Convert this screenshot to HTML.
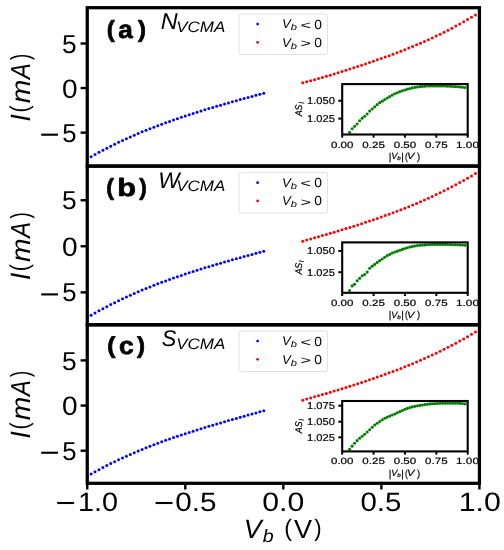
<!DOCTYPE html>
<html><head><meta charset="utf-8"><style>
html,body{margin:0;padding:0;background:#fff;}
svg{display:block;will-change:transform;}
text{font-family:"Liberation Sans", sans-serif;text-rendering:geometricPrecision;}
</style></head><body>
<svg width="504" height="550" viewBox="0 0 504 550">
<defs><clipPath id="clipa"><rect x="87.25" y="7.7" width="392.18" height="158.4"/></clipPath><clipPath id="iclipa"><rect x="342.2" y="84.1" width="125.5" height="50.4"/></clipPath><clipPath id="clipb"><rect x="87.25" y="166.1" width="392.18" height="158.70000000000002"/></clipPath><clipPath id="iclipb"><rect x="342.2" y="242.4" width="125.5" height="50.4"/></clipPath><clipPath id="clipc"><rect x="87.25" y="324.8" width="392.18" height="158.5"/></clipPath><clipPath id="iclipc"><rect x="342.2" y="401.0" width="125.5" height="50.4"/></clipPath></defs>
<rect width="504" height="550" fill="#fff"/>
<g clip-path="url(#clipa)"><g fill="#0000ff"><circle cx="87.18" cy="159.08" r="1.5"/><circle cx="91.10" cy="156.76" r="1.5"/><circle cx="95.03" cy="154.50" r="1.5"/><circle cx="98.95" cy="152.32" r="1.5"/><circle cx="102.88" cy="150.20" r="1.5"/><circle cx="106.80" cy="148.14" r="1.5"/><circle cx="110.72" cy="146.13" r="1.5"/><circle cx="114.65" cy="144.18" r="1.5"/><circle cx="118.57" cy="142.28" r="1.5"/><circle cx="122.50" cy="140.44" r="1.5"/><circle cx="126.42" cy="138.64" r="1.5"/><circle cx="130.34" cy="136.88" r="1.5"/><circle cx="134.27" cy="135.17" r="1.5"/><circle cx="138.19" cy="133.49" r="1.5"/><circle cx="142.12" cy="131.86" r="1.5"/><circle cx="146.04" cy="130.27" r="1.5"/><circle cx="149.96" cy="128.70" r="1.5"/><circle cx="153.89" cy="127.18" r="1.5"/><circle cx="157.81" cy="125.68" r="1.5"/><circle cx="161.74" cy="124.22" r="1.5"/><circle cx="165.66" cy="122.78" r="1.5"/><circle cx="169.58" cy="121.38" r="1.5"/><circle cx="173.51" cy="120.00" r="1.5"/><circle cx="177.43" cy="118.64" r="1.5"/><circle cx="181.36" cy="117.32" r="1.5"/><circle cx="185.28" cy="116.01" r="1.5"/><circle cx="189.20" cy="114.73" r="1.5"/><circle cx="193.13" cy="113.46" r="1.5"/><circle cx="197.05" cy="112.22" r="1.5"/><circle cx="200.98" cy="111.00" r="1.5"/><circle cx="204.90" cy="109.79" r="1.5"/><circle cx="208.82" cy="108.60" r="1.5"/><circle cx="212.75" cy="107.43" r="1.5"/><circle cx="216.67" cy="106.28" r="1.5"/><circle cx="220.60" cy="105.14" r="1.5"/><circle cx="224.52" cy="104.01" r="1.5"/><circle cx="228.44" cy="102.89" r="1.5"/><circle cx="232.37" cy="101.79" r="1.5"/><circle cx="236.29" cy="100.70" r="1.5"/><circle cx="240.22" cy="99.61" r="1.5"/><circle cx="244.14" cy="98.54" r="1.5"/><circle cx="248.06" cy="97.47" r="1.5"/><circle cx="251.99" cy="96.41" r="1.5"/><circle cx="255.91" cy="95.35" r="1.5"/><circle cx="259.84" cy="94.30" r="1.5"/><circle cx="263.76" cy="93.24" r="1.5"/></g><g fill="#ff0000"><circle cx="302.78" cy="82.76" r="1.5"/><circle cx="306.70" cy="81.78" r="1.5"/><circle cx="310.63" cy="80.76" r="1.5"/><circle cx="314.55" cy="79.70" r="1.5"/><circle cx="318.48" cy="78.61" r="1.5"/><circle cx="322.40" cy="77.50" r="1.5"/><circle cx="326.32" cy="76.35" r="1.5"/><circle cx="330.25" cy="75.18" r="1.5"/><circle cx="334.17" cy="74.00" r="1.5"/><circle cx="338.10" cy="72.79" r="1.5"/><circle cx="342.02" cy="71.57" r="1.5"/><circle cx="345.94" cy="70.33" r="1.5"/><circle cx="349.87" cy="69.08" r="1.5"/><circle cx="353.79" cy="67.81" r="1.5"/><circle cx="357.72" cy="66.53" r="1.5"/><circle cx="361.64" cy="65.23" r="1.5"/><circle cx="365.56" cy="63.91" r="1.5"/><circle cx="369.49" cy="62.58" r="1.5"/><circle cx="373.41" cy="61.24" r="1.5"/><circle cx="377.34" cy="59.87" r="1.5"/><circle cx="381.26" cy="58.49" r="1.5"/><circle cx="385.18" cy="57.08" r="1.5"/><circle cx="389.11" cy="55.65" r="1.5"/><circle cx="393.03" cy="54.20" r="1.5"/><circle cx="396.96" cy="52.72" r="1.5"/><circle cx="400.88" cy="51.22" r="1.5"/><circle cx="404.80" cy="49.68" r="1.5"/><circle cx="408.73" cy="48.11" r="1.5"/><circle cx="412.65" cy="46.51" r="1.5"/><circle cx="416.58" cy="44.87" r="1.5"/><circle cx="420.50" cy="43.19" r="1.5"/><circle cx="424.42" cy="41.47" r="1.5"/><circle cx="428.35" cy="39.71" r="1.5"/><circle cx="432.27" cy="37.91" r="1.5"/><circle cx="436.20" cy="36.06" r="1.5"/><circle cx="440.12" cy="34.17" r="1.5"/><circle cx="444.04" cy="32.22" r="1.5"/><circle cx="447.97" cy="30.23" r="1.5"/><circle cx="451.89" cy="28.19" r="1.5"/><circle cx="455.82" cy="26.10" r="1.5"/><circle cx="459.74" cy="23.96" r="1.5"/><circle cx="463.66" cy="21.77" r="1.5"/><circle cx="467.59" cy="19.52" r="1.5"/><circle cx="471.51" cy="17.23" r="1.5"/><circle cx="475.44" cy="14.89" r="1.5"/><circle cx="479.36" cy="12.50" r="1.5"/></g></g><line x1="80.6" y1="43.5" x2="87.25" y2="43.5" stroke="#000" stroke-width="2.4"/><text transform="translate(61.95 52.64) scale(1.0141 1)" font-size="25.95">5</text><line x1="80.6" y1="88.05" x2="87.25" y2="88.05" stroke="#000" stroke-width="2.4"/><text transform="translate(61.98 97.63) scale(1.0561 1)" font-size="26.57">0</text><line x1="80.6" y1="132.65" x2="87.25" y2="132.65" stroke="#000" stroke-width="2.4"/><text transform="translate(62.17 141.79) scale(0.9898 1)" font-size="25.95">5</text><rect x="41.2" y="133.65" width="16.8" height="2.1"/><text transform="rotate(-90) translate(-59.94 28.57) scale(0.7134 1)" font-size="26.17">)</text><text transform="rotate(-90) translate(-79.07 30.00) scale(0.8653 1)" font-size="27.49" font-style="italic">A</text><text transform="rotate(-90) translate(-103.30 30.00) scale(1.0423 1)" font-size="27.16" font-style="italic">m</text><text transform="rotate(-90) translate(-112.53 28.26) scale(0.8289 1)" font-size="25.74">(</text><text transform="rotate(-90) translate(-121.45 30.00) scale(0.9444 1)" font-size="27.93" font-style="italic">I</text><text transform="translate(106.65 36.64) scale(1.0330 1)" font-size="23.16" font-weight="bold" stroke="#000" stroke-width="0.7" stroke-linejoin="round">(</text><text transform="translate(118.27 37.70) scale(1.0432 1)" font-size="25.02" font-weight="bold" stroke="#000" stroke-width="0.7" stroke-linejoin="round">a</text><text transform="translate(137.89 36.64) scale(1.0330 1)" font-size="23.16" font-weight="bold" stroke="#000" stroke-width="0.7" stroke-linejoin="round">)</text><text transform="translate(160.70 29.40) scale(1.0179 1)" font-size="22.98" font-style="italic">N</text><text transform="translate(176.26 32.45) scale(1.1227 1)" font-size="15.12" font-style="italic">VCMA</text><rect x="239.0" y="14.00" width="88.6" height="40.5" rx="2.2" fill="#fff" fill-opacity="0.8" stroke="#d9d9d9" stroke-width="0.8"/><circle cx="257.6" cy="24.10" r="1.35" fill="#0000ff"/><circle cx="257.6" cy="42.30" r="1.35" fill="#ff0000"/><text transform="translate(281.94 28.20) scale(1.0456 1)" font-size="12.65" font-style="italic">V</text><text transform="translate(290.73 30.31) scale(1.2835 1)" font-size="8.71" font-style="italic">b</text><text transform="translate(300.50 28.64) scale(1.5971 1)" font-size="11.23">&lt;</text><text transform="translate(314.35 28.57) scale(1.0403 1)" font-size="13.29">0</text><text transform="translate(281.94 46.50) scale(1.0456 1)" font-size="12.65" font-style="italic">V</text><text transform="translate(290.73 48.61) scale(1.2835 1)" font-size="8.71" font-style="italic">b</text><text transform="translate(300.50 46.94) scale(1.5971 1)" font-size="11.23">&gt;</text><text transform="translate(314.35 46.87) scale(1.0403 1)" font-size="13.29">0</text><rect x="342.2" y="84.1" width="125.5" height="50.4" fill="#fff"/><g clip-path="url(#iclipa)"><g fill="#008000"><circle cx="349.60" cy="132.30" r="1.55"/><circle cx="352.11" cy="128.80" r="1.55"/><circle cx="354.62" cy="126.37" r="1.55"/><circle cx="357.13" cy="124.07" r="1.55"/><circle cx="359.64" cy="120.79" r="1.55"/><circle cx="362.15" cy="118.13" r="1.55"/><circle cx="364.66" cy="116.19" r="1.55"/><circle cx="367.17" cy="114.03" r="1.55"/><circle cx="369.68" cy="111.12" r="1.55"/><circle cx="372.19" cy="109.05" r="1.55"/><circle cx="374.70" cy="106.87" r="1.55"/><circle cx="377.21" cy="104.63" r="1.55"/><circle cx="379.72" cy="102.66" r="1.55"/><circle cx="382.23" cy="101.13" r="1.55"/><circle cx="384.74" cy="99.49" r="1.55"/><circle cx="387.25" cy="97.96" r="1.55"/><circle cx="389.76" cy="96.60" r="1.55"/><circle cx="392.27" cy="95.11" r="1.55"/><circle cx="394.78" cy="93.74" r="1.55"/><circle cx="397.29" cy="92.74" r="1.55"/><circle cx="399.80" cy="91.64" r="1.55"/><circle cx="402.31" cy="90.81" r="1.55"/><circle cx="404.82" cy="89.93" r="1.55"/><circle cx="407.33" cy="89.14" r="1.55"/><circle cx="409.84" cy="88.46" r="1.55"/><circle cx="412.35" cy="87.88" r="1.55"/><circle cx="414.86" cy="87.37" r="1.55"/><circle cx="417.37" cy="86.96" r="1.55"/><circle cx="419.88" cy="86.65" r="1.55"/><circle cx="422.39" cy="86.40" r="1.55"/><circle cx="424.90" cy="86.19" r="1.55"/><circle cx="427.41" cy="86.00" r="1.55"/><circle cx="429.92" cy="85.90" r="1.55"/><circle cx="432.43" cy="85.90" r="1.55"/><circle cx="434.94" cy="85.90" r="1.55"/><circle cx="437.45" cy="85.90" r="1.55"/><circle cx="439.96" cy="85.90" r="1.55"/><circle cx="442.47" cy="85.90" r="1.55"/><circle cx="444.98" cy="85.95" r="1.55"/><circle cx="447.49" cy="86.13" r="1.55"/><circle cx="450.00" cy="86.31" r="1.55"/><circle cx="452.51" cy="86.46" r="1.55"/><circle cx="455.02" cy="86.61" r="1.55"/><circle cx="457.53" cy="86.78" r="1.55"/><circle cx="460.04" cy="86.98" r="1.55"/><circle cx="462.55" cy="87.21" r="1.55"/><circle cx="465.06" cy="87.45" r="1.55"/></g></g><line x1="338.3" y1="100.75" x2="342.2" y2="100.75" stroke="#000" stroke-width="2.0"/><text transform="translate(307.07 104.30) scale(1.1091 1)" font-size="10.04" stroke="#000" stroke-width="0.2" stroke-linejoin="round">1.050</text><line x1="338.3" y1="118.6" x2="342.2" y2="118.6" stroke="#000" stroke-width="2.0"/><text transform="translate(307.06 122.15) scale(1.1102 1)" font-size="10.04" stroke="#000" stroke-width="0.2" stroke-linejoin="round">1.025</text><line x1="342.20" y1="134.5" x2="342.20" y2="137.70" stroke="#000" stroke-width="2.0"/><text transform="translate(330.99 147.51) scale(1.2727 1)" font-size="9.05" stroke="#000" stroke-width="0.2" stroke-linejoin="round">0.00</text><line x1="373.57" y1="134.5" x2="373.57" y2="137.70" stroke="#000" stroke-width="2.0"/><text transform="translate(362.36 147.51) scale(1.2744 1)" font-size="9.05" stroke="#000" stroke-width="0.2" stroke-linejoin="round">0.25</text><line x1="404.95" y1="134.5" x2="404.95" y2="137.70" stroke="#000" stroke-width="2.0"/><text transform="translate(393.74 147.51) scale(1.2727 1)" font-size="9.05" stroke="#000" stroke-width="0.2" stroke-linejoin="round">0.50</text><line x1="436.32" y1="134.5" x2="436.32" y2="137.70" stroke="#000" stroke-width="2.0"/><text transform="translate(425.11 147.51) scale(1.2744 1)" font-size="9.05" stroke="#000" stroke-width="0.2" stroke-linejoin="round">0.75</text><line x1="467.70" y1="134.5" x2="467.70" y2="137.70" stroke="#000" stroke-width="2.0"/><text transform="translate(456.07 147.51) scale(1.2970 1)" font-size="9.05" stroke="#000" stroke-width="0.2" stroke-linejoin="round">1.00</text><text transform="translate(388.85 159.67) scale(1.0000 1)" font-size="10.03" stroke="#000" stroke-width="0.2" stroke-linejoin="round">|</text><text transform="translate(391.20 159.30) scale(1.0119 1)" font-size="9.02" font-style="italic" stroke="#000" stroke-width="0.2" stroke-linejoin="round">V</text><text transform="translate(397.31 160.45) scale(1.1529 1)" font-size="5.44" font-style="italic" stroke="#000" stroke-width="0.2" stroke-linejoin="round">b</text><text transform="translate(401.20 159.67) scale(1.0000 1)" font-size="10.03" stroke="#000" stroke-width="0.2" stroke-linejoin="round">|</text><text transform="translate(405.08 159.71) scale(0.8314 1)" font-size="10.08" stroke="#000" stroke-width="0.2" stroke-linejoin="round">(</text><text transform="translate(407.03 159.30) scale(1.2311 1)" font-size="9.02" font-style="italic" stroke="#000" stroke-width="0.2" stroke-linejoin="round">V</text><text transform="translate(416.93 159.71) scale(0.9448 1)" font-size="10.08" stroke="#000" stroke-width="0.2" stroke-linejoin="round">)</text><text transform="rotate(-90) translate(-116.28 301.65) scale(0.8991 1)" font-size="9.82" font-style="italic" stroke="#000" stroke-width="0.2" stroke-linejoin="round">AS</text><text transform="rotate(-90) translate(-103.85 303.70) scale(0.8296 1)" font-size="7.42" font-style="italic" stroke="#000" stroke-width="0.2" stroke-linejoin="round">I</text><rect x="342.2" y="84.1" width="125.5" height="50.4" fill="none" stroke="#000" stroke-width="2.1"/><g clip-path="url(#clipb)"><g fill="#0000ff"><circle cx="87.18" cy="317.57" r="1.5"/><circle cx="91.10" cy="315.27" r="1.5"/><circle cx="95.03" cy="313.02" r="1.5"/><circle cx="98.95" cy="310.83" r="1.5"/><circle cx="102.88" cy="308.70" r="1.5"/><circle cx="106.80" cy="306.63" r="1.5"/><circle cx="110.72" cy="304.60" r="1.5"/><circle cx="114.65" cy="302.63" r="1.5"/><circle cx="118.57" cy="300.70" r="1.5"/><circle cx="122.50" cy="298.83" r="1.5"/><circle cx="126.42" cy="297.00" r="1.5"/><circle cx="130.34" cy="295.21" r="1.5"/><circle cx="134.27" cy="293.47" r="1.5"/><circle cx="138.19" cy="291.77" r="1.5"/><circle cx="142.12" cy="290.11" r="1.5"/><circle cx="146.04" cy="288.49" r="1.5"/><circle cx="149.96" cy="286.91" r="1.5"/><circle cx="153.89" cy="285.36" r="1.5"/><circle cx="157.81" cy="283.85" r="1.5"/><circle cx="161.74" cy="282.37" r="1.5"/><circle cx="165.66" cy="280.93" r="1.5"/><circle cx="169.58" cy="279.51" r="1.5"/><circle cx="173.51" cy="278.12" r="1.5"/><circle cx="177.43" cy="276.76" r="1.5"/><circle cx="181.36" cy="275.42" r="1.5"/><circle cx="185.28" cy="274.11" r="1.5"/><circle cx="189.20" cy="272.82" r="1.5"/><circle cx="193.13" cy="271.56" r="1.5"/><circle cx="197.05" cy="270.31" r="1.5"/><circle cx="200.98" cy="269.08" r="1.5"/><circle cx="204.90" cy="267.87" r="1.5"/><circle cx="208.82" cy="266.68" r="1.5"/><circle cx="212.75" cy="265.50" r="1.5"/><circle cx="216.67" cy="264.34" r="1.5"/><circle cx="220.60" cy="263.19" r="1.5"/><circle cx="224.52" cy="262.06" r="1.5"/><circle cx="228.44" cy="260.93" r="1.5"/><circle cx="232.37" cy="259.82" r="1.5"/><circle cx="236.29" cy="258.72" r="1.5"/><circle cx="240.22" cy="257.63" r="1.5"/><circle cx="244.14" cy="256.55" r="1.5"/><circle cx="248.06" cy="255.47" r="1.5"/><circle cx="251.99" cy="254.41" r="1.5"/><circle cx="255.91" cy="253.35" r="1.5"/><circle cx="259.84" cy="252.30" r="1.5"/><circle cx="263.76" cy="251.26" r="1.5"/></g><g fill="#ff0000"><circle cx="302.78" cy="241.15" r="1.5"/><circle cx="306.70" cy="240.05" r="1.5"/><circle cx="310.63" cy="238.94" r="1.5"/><circle cx="314.55" cy="237.82" r="1.5"/><circle cx="318.48" cy="236.70" r="1.5"/><circle cx="322.40" cy="235.58" r="1.5"/><circle cx="326.32" cy="234.44" r="1.5"/><circle cx="330.25" cy="233.29" r="1.5"/><circle cx="334.17" cy="232.14" r="1.5"/><circle cx="338.10" cy="230.97" r="1.5"/><circle cx="342.02" cy="229.79" r="1.5"/><circle cx="345.94" cy="228.59" r="1.5"/><circle cx="349.87" cy="227.38" r="1.5"/><circle cx="353.79" cy="226.15" r="1.5"/><circle cx="357.72" cy="224.91" r="1.5"/><circle cx="361.64" cy="223.65" r="1.5"/><circle cx="365.56" cy="222.37" r="1.5"/><circle cx="369.49" cy="221.06" r="1.5"/><circle cx="373.41" cy="219.74" r="1.5"/><circle cx="377.34" cy="218.39" r="1.5"/><circle cx="381.26" cy="217.02" r="1.5"/><circle cx="385.18" cy="215.62" r="1.5"/><circle cx="389.11" cy="214.20" r="1.5"/><circle cx="393.03" cy="212.74" r="1.5"/><circle cx="396.96" cy="211.26" r="1.5"/><circle cx="400.88" cy="209.75" r="1.5"/><circle cx="404.80" cy="208.21" r="1.5"/><circle cx="408.73" cy="206.64" r="1.5"/><circle cx="412.65" cy="205.03" r="1.5"/><circle cx="416.58" cy="203.38" r="1.5"/><circle cx="420.50" cy="201.70" r="1.5"/><circle cx="424.42" cy="199.99" r="1.5"/><circle cx="428.35" cy="198.23" r="1.5"/><circle cx="432.27" cy="196.43" r="1.5"/><circle cx="436.20" cy="194.59" r="1.5"/><circle cx="440.12" cy="192.71" r="1.5"/><circle cx="444.04" cy="190.78" r="1.5"/><circle cx="447.97" cy="188.81" r="1.5"/><circle cx="451.89" cy="186.79" r="1.5"/><circle cx="455.82" cy="184.72" r="1.5"/><circle cx="459.74" cy="182.59" r="1.5"/><circle cx="463.66" cy="180.42" r="1.5"/><circle cx="467.59" cy="178.20" r="1.5"/><circle cx="471.51" cy="175.91" r="1.5"/><circle cx="475.44" cy="173.58" r="1.5"/><circle cx="479.36" cy="171.18" r="1.5"/></g></g><line x1="80.6" y1="200.25" x2="87.25" y2="200.25" stroke="#000" stroke-width="2.4"/><text transform="translate(61.95 209.39) scale(1.0141 1)" font-size="25.95">5</text><line x1="80.6" y1="246.25" x2="87.25" y2="246.25" stroke="#000" stroke-width="2.4"/><text transform="translate(61.98 255.83) scale(1.0561 1)" font-size="26.57">0</text><line x1="80.6" y1="292.35" x2="87.25" y2="292.35" stroke="#000" stroke-width="2.4"/><text transform="translate(62.17 301.49) scale(0.9898 1)" font-size="25.95">5</text><rect x="41.2" y="293.35" width="16.8" height="2.1"/><text transform="rotate(-90) translate(-218.54 28.57) scale(0.7134 1)" font-size="26.17">)</text><text transform="rotate(-90) translate(-237.67 30.00) scale(0.8653 1)" font-size="27.49" font-style="italic">A</text><text transform="rotate(-90) translate(-261.90 30.00) scale(1.0423 1)" font-size="27.16" font-style="italic">m</text><text transform="rotate(-90) translate(-271.13 28.26) scale(0.8289 1)" font-size="25.74">(</text><text transform="rotate(-90) translate(-280.05 30.00) scale(0.9444 1)" font-size="27.93" font-style="italic">I</text><text transform="translate(106.29 195.04) scale(1.0022 1)" font-size="23.16" font-weight="bold" stroke="#000" stroke-width="0.7" stroke-linejoin="round">(</text><text transform="translate(117.15 196.30) scale(1.2328 1)" font-size="24.90" font-weight="bold" stroke="#000" stroke-width="0.7" stroke-linejoin="round">b</text><text transform="translate(139.19 195.04) scale(0.9714 1)" font-size="23.16" font-weight="bold" stroke="#000" stroke-width="0.7" stroke-linejoin="round">)</text><text transform="translate(158.23 187.60) scale(0.9945 1)" font-size="22.69" font-style="italic">W</text><text transform="translate(176.26 191.05) scale(1.1227 1)" font-size="15.12" font-style="italic">VCMA</text><rect x="239.0" y="172.60" width="88.6" height="40.5" rx="2.2" fill="#fff" fill-opacity="0.8" stroke="#d9d9d9" stroke-width="0.8"/><circle cx="257.6" cy="182.70" r="1.35" fill="#0000ff"/><circle cx="257.6" cy="200.90" r="1.35" fill="#ff0000"/><text transform="translate(281.94 186.80) scale(1.0456 1)" font-size="12.65" font-style="italic">V</text><text transform="translate(290.73 188.91) scale(1.2835 1)" font-size="8.71" font-style="italic">b</text><text transform="translate(300.50 187.24) scale(1.5971 1)" font-size="11.23">&lt;</text><text transform="translate(314.35 187.17) scale(1.0403 1)" font-size="13.29">0</text><text transform="translate(281.94 205.10) scale(1.0456 1)" font-size="12.65" font-style="italic">V</text><text transform="translate(290.73 207.21) scale(1.2835 1)" font-size="8.71" font-style="italic">b</text><text transform="translate(300.50 205.54) scale(1.5971 1)" font-size="11.23">&gt;</text><text transform="translate(314.35 205.47) scale(1.0403 1)" font-size="13.29">0</text><rect x="342.2" y="242.4" width="125.5" height="50.4" fill="#fff"/><g clip-path="url(#iclipb)"><g fill="#008000"><circle cx="349.60" cy="290.60" r="1.55"/><circle cx="352.11" cy="285.89" r="1.55"/><circle cx="354.62" cy="284.37" r="1.55"/><circle cx="357.13" cy="280.78" r="1.55"/><circle cx="359.64" cy="278.35" r="1.55"/><circle cx="362.15" cy="275.81" r="1.55"/><circle cx="364.66" cy="274.55" r="1.55"/><circle cx="367.17" cy="272.08" r="1.55"/><circle cx="369.68" cy="268.25" r="1.55"/><circle cx="372.19" cy="266.13" r="1.55"/><circle cx="374.70" cy="264.42" r="1.55"/><circle cx="377.21" cy="262.40" r="1.55"/><circle cx="379.72" cy="260.65" r="1.55"/><circle cx="382.23" cy="259.04" r="1.55"/><circle cx="384.74" cy="257.32" r="1.55"/><circle cx="387.25" cy="255.57" r="1.55"/><circle cx="389.76" cy="254.35" r="1.55"/><circle cx="392.27" cy="253.05" r="1.55"/><circle cx="394.78" cy="252.09" r="1.55"/><circle cx="397.29" cy="251.13" r="1.55"/><circle cx="399.80" cy="250.20" r="1.55"/><circle cx="402.31" cy="249.42" r="1.55"/><circle cx="404.82" cy="248.54" r="1.55"/><circle cx="407.33" cy="247.70" r="1.55"/><circle cx="409.84" cy="246.96" r="1.55"/><circle cx="412.35" cy="246.40" r="1.55"/><circle cx="414.86" cy="245.93" r="1.55"/><circle cx="417.37" cy="245.57" r="1.55"/><circle cx="419.88" cy="245.30" r="1.55"/><circle cx="422.39" cy="245.09" r="1.55"/><circle cx="424.90" cy="244.91" r="1.55"/><circle cx="427.41" cy="244.74" r="1.55"/><circle cx="429.92" cy="244.61" r="1.55"/><circle cx="432.43" cy="244.51" r="1.55"/><circle cx="434.94" cy="244.42" r="1.55"/><circle cx="437.45" cy="244.40" r="1.55"/><circle cx="439.96" cy="244.40" r="1.55"/><circle cx="442.47" cy="244.40" r="1.55"/><circle cx="444.98" cy="244.42" r="1.55"/><circle cx="447.49" cy="244.51" r="1.55"/><circle cx="450.00" cy="244.61" r="1.55"/><circle cx="452.51" cy="244.68" r="1.55"/><circle cx="455.02" cy="244.75" r="1.55"/><circle cx="457.53" cy="244.84" r="1.55"/><circle cx="460.04" cy="244.94" r="1.55"/><circle cx="462.55" cy="245.05" r="1.55"/><circle cx="465.06" cy="245.18" r="1.55"/></g></g><line x1="338.3" y1="250.9" x2="342.2" y2="250.9" stroke="#000" stroke-width="2.0"/><text transform="translate(307.07 254.45) scale(1.1091 1)" font-size="10.04" stroke="#000" stroke-width="0.2" stroke-linejoin="round">1.050</text><line x1="338.3" y1="272.2" x2="342.2" y2="272.2" stroke="#000" stroke-width="2.0"/><text transform="translate(307.06 275.75) scale(1.1102 1)" font-size="10.04" stroke="#000" stroke-width="0.2" stroke-linejoin="round">1.025</text><line x1="342.20" y1="292.8" x2="342.20" y2="296.00" stroke="#000" stroke-width="2.0"/><text transform="translate(330.99 305.81) scale(1.2727 1)" font-size="9.05" stroke="#000" stroke-width="0.2" stroke-linejoin="round">0.00</text><line x1="373.57" y1="292.8" x2="373.57" y2="296.00" stroke="#000" stroke-width="2.0"/><text transform="translate(362.36 305.81) scale(1.2744 1)" font-size="9.05" stroke="#000" stroke-width="0.2" stroke-linejoin="round">0.25</text><line x1="404.95" y1="292.8" x2="404.95" y2="296.00" stroke="#000" stroke-width="2.0"/><text transform="translate(393.74 305.81) scale(1.2727 1)" font-size="9.05" stroke="#000" stroke-width="0.2" stroke-linejoin="round">0.50</text><line x1="436.32" y1="292.8" x2="436.32" y2="296.00" stroke="#000" stroke-width="2.0"/><text transform="translate(425.11 305.81) scale(1.2744 1)" font-size="9.05" stroke="#000" stroke-width="0.2" stroke-linejoin="round">0.75</text><line x1="467.70" y1="292.8" x2="467.70" y2="296.00" stroke="#000" stroke-width="2.0"/><text transform="translate(456.07 305.81) scale(1.2970 1)" font-size="9.05" stroke="#000" stroke-width="0.2" stroke-linejoin="round">1.00</text><text transform="translate(388.85 317.97) scale(1.0000 1)" font-size="10.03" stroke="#000" stroke-width="0.2" stroke-linejoin="round">|</text><text transform="translate(391.20 317.60) scale(1.0119 1)" font-size="9.02" font-style="italic" stroke="#000" stroke-width="0.2" stroke-linejoin="round">V</text><text transform="translate(397.31 318.75) scale(1.1529 1)" font-size="5.44" font-style="italic" stroke="#000" stroke-width="0.2" stroke-linejoin="round">b</text><text transform="translate(401.20 317.97) scale(1.0000 1)" font-size="10.03" stroke="#000" stroke-width="0.2" stroke-linejoin="round">|</text><text transform="translate(405.08 318.01) scale(0.8314 1)" font-size="10.08" stroke="#000" stroke-width="0.2" stroke-linejoin="round">(</text><text transform="translate(407.03 317.60) scale(1.2311 1)" font-size="9.02" font-style="italic" stroke="#000" stroke-width="0.2" stroke-linejoin="round">V</text><text transform="translate(416.93 318.01) scale(0.9448 1)" font-size="10.08" stroke="#000" stroke-width="0.2" stroke-linejoin="round">)</text><text transform="rotate(-90) translate(-274.58 301.65) scale(0.8991 1)" font-size="9.82" font-style="italic" stroke="#000" stroke-width="0.2" stroke-linejoin="round">AS</text><text transform="rotate(-90) translate(-262.15 303.70) scale(0.8296 1)" font-size="7.42" font-style="italic" stroke="#000" stroke-width="0.2" stroke-linejoin="round">I</text><rect x="342.2" y="242.4" width="125.5" height="50.4" fill="none" stroke="#000" stroke-width="2.1"/><g clip-path="url(#clipc)"><g fill="#0000ff"><circle cx="87.18" cy="476.18" r="1.5"/><circle cx="91.10" cy="473.96" r="1.5"/><circle cx="95.03" cy="471.79" r="1.5"/><circle cx="98.95" cy="469.67" r="1.5"/><circle cx="102.88" cy="467.60" r="1.5"/><circle cx="106.80" cy="465.58" r="1.5"/><circle cx="110.72" cy="463.60" r="1.5"/><circle cx="114.65" cy="461.67" r="1.5"/><circle cx="118.57" cy="459.79" r="1.5"/><circle cx="122.50" cy="457.95" r="1.5"/><circle cx="126.42" cy="456.15" r="1.5"/><circle cx="130.34" cy="454.40" r="1.5"/><circle cx="134.27" cy="452.69" r="1.5"/><circle cx="138.19" cy="451.03" r="1.5"/><circle cx="142.12" cy="449.40" r="1.5"/><circle cx="146.04" cy="447.80" r="1.5"/><circle cx="149.96" cy="446.25" r="1.5"/><circle cx="153.89" cy="444.73" r="1.5"/><circle cx="157.81" cy="443.24" r="1.5"/><circle cx="161.74" cy="441.79" r="1.5"/><circle cx="165.66" cy="440.37" r="1.5"/><circle cx="169.58" cy="438.97" r="1.5"/><circle cx="173.51" cy="437.61" r="1.5"/><circle cx="177.43" cy="436.27" r="1.5"/><circle cx="181.36" cy="434.96" r="1.5"/><circle cx="185.28" cy="433.67" r="1.5"/><circle cx="189.20" cy="432.40" r="1.5"/><circle cx="193.13" cy="431.15" r="1.5"/><circle cx="197.05" cy="429.92" r="1.5"/><circle cx="200.98" cy="428.71" r="1.5"/><circle cx="204.90" cy="427.52" r="1.5"/><circle cx="208.82" cy="426.34" r="1.5"/><circle cx="212.75" cy="425.17" r="1.5"/><circle cx="216.67" cy="424.02" r="1.5"/><circle cx="220.60" cy="422.88" r="1.5"/><circle cx="224.52" cy="421.74" r="1.5"/><circle cx="228.44" cy="420.62" r="1.5"/><circle cx="232.37" cy="419.50" r="1.5"/><circle cx="236.29" cy="418.38" r="1.5"/><circle cx="240.22" cy="417.28" r="1.5"/><circle cx="244.14" cy="416.18" r="1.5"/><circle cx="248.06" cy="415.08" r="1.5"/><circle cx="251.99" cy="413.98" r="1.5"/><circle cx="255.91" cy="412.88" r="1.5"/><circle cx="259.84" cy="411.79" r="1.5"/><circle cx="263.76" cy="410.70" r="1.5"/></g><g fill="#ff0000"><circle cx="302.78" cy="400.16" r="1.5"/><circle cx="306.70" cy="399.08" r="1.5"/><circle cx="310.63" cy="397.98" r="1.5"/><circle cx="314.55" cy="396.86" r="1.5"/><circle cx="318.48" cy="395.74" r="1.5"/><circle cx="322.40" cy="394.60" r="1.5"/><circle cx="326.32" cy="393.45" r="1.5"/><circle cx="330.25" cy="392.29" r="1.5"/><circle cx="334.17" cy="391.11" r="1.5"/><circle cx="338.10" cy="389.92" r="1.5"/><circle cx="342.02" cy="388.71" r="1.5"/><circle cx="345.94" cy="387.49" r="1.5"/><circle cx="349.87" cy="386.26" r="1.5"/><circle cx="353.79" cy="385.01" r="1.5"/><circle cx="357.72" cy="383.74" r="1.5"/><circle cx="361.64" cy="382.45" r="1.5"/><circle cx="365.56" cy="381.14" r="1.5"/><circle cx="369.49" cy="379.82" r="1.5"/><circle cx="373.41" cy="378.47" r="1.5"/><circle cx="377.34" cy="377.10" r="1.5"/><circle cx="381.26" cy="375.71" r="1.5"/><circle cx="385.18" cy="374.30" r="1.5"/><circle cx="389.11" cy="372.86" r="1.5"/><circle cx="393.03" cy="371.40" r="1.5"/><circle cx="396.96" cy="369.91" r="1.5"/><circle cx="400.88" cy="368.38" r="1.5"/><circle cx="404.80" cy="366.83" r="1.5"/><circle cx="408.73" cy="365.25" r="1.5"/><circle cx="412.65" cy="363.64" r="1.5"/><circle cx="416.58" cy="361.99" r="1.5"/><circle cx="420.50" cy="360.30" r="1.5"/><circle cx="424.42" cy="358.58" r="1.5"/><circle cx="428.35" cy="356.82" r="1.5"/><circle cx="432.27" cy="355.02" r="1.5"/><circle cx="436.20" cy="353.18" r="1.5"/><circle cx="440.12" cy="351.29" r="1.5"/><circle cx="444.04" cy="349.35" r="1.5"/><circle cx="447.97" cy="347.37" r="1.5"/><circle cx="451.89" cy="345.34" r="1.5"/><circle cx="455.82" cy="343.25" r="1.5"/><circle cx="459.74" cy="341.11" r="1.5"/><circle cx="463.66" cy="338.92" r="1.5"/><circle cx="467.59" cy="336.67" r="1.5"/><circle cx="471.51" cy="334.36" r="1.5"/><circle cx="475.44" cy="331.98" r="1.5"/><circle cx="479.36" cy="329.54" r="1.5"/></g></g><line x1="80.6" y1="360.4" x2="87.25" y2="360.4" stroke="#000" stroke-width="2.4"/><text transform="translate(61.95 369.54) scale(1.0141 1)" font-size="25.95">5</text><line x1="80.6" y1="405.6" x2="87.25" y2="405.6" stroke="#000" stroke-width="2.4"/><text transform="translate(61.98 415.18) scale(1.0561 1)" font-size="26.57">0</text><line x1="80.6" y1="450.7" x2="87.25" y2="450.7" stroke="#000" stroke-width="2.4"/><text transform="translate(62.17 459.84) scale(0.9898 1)" font-size="25.95">5</text><rect x="41.2" y="451.70" width="16.8" height="2.1"/><text transform="rotate(-90) translate(-376.94 28.57) scale(0.7134 1)" font-size="26.17">)</text><text transform="rotate(-90) translate(-396.07 30.00) scale(0.8653 1)" font-size="27.49" font-style="italic">A</text><text transform="rotate(-90) translate(-420.30 30.00) scale(1.0423 1)" font-size="27.16" font-style="italic">m</text><text transform="rotate(-90) translate(-429.53 28.26) scale(0.8289 1)" font-size="25.74">(</text><text transform="rotate(-90) translate(-438.45 30.00) scale(0.9444 1)" font-size="27.93" font-style="italic">I</text><text transform="translate(107.32 353.47) scale(1.0688 1)" font-size="23.06" font-weight="bold" stroke="#000" stroke-width="0.7" stroke-linejoin="round">(</text><text transform="translate(118.99 354.30) scale(1.0732 1)" font-size="24.66" font-weight="bold" stroke="#000" stroke-width="0.7" stroke-linejoin="round">c</text><text transform="translate(137.04 353.47) scale(1.0456 1)" font-size="23.06" font-weight="bold" stroke="#000" stroke-width="0.7" stroke-linejoin="round">)</text><text transform="translate(161.65 346.27) scale(0.9619 1)" font-size="22.61" font-style="italic">S</text><text transform="translate(176.26 349.45) scale(1.1227 1)" font-size="15.12" font-style="italic">VCMA</text><rect x="239.0" y="331.00" width="88.6" height="40.5" rx="2.2" fill="#fff" fill-opacity="0.8" stroke="#d9d9d9" stroke-width="0.8"/><circle cx="257.6" cy="341.10" r="1.35" fill="#0000ff"/><circle cx="257.6" cy="359.30" r="1.35" fill="#ff0000"/><text transform="translate(281.94 345.20) scale(1.0456 1)" font-size="12.65" font-style="italic">V</text><text transform="translate(290.73 347.31) scale(1.2835 1)" font-size="8.71" font-style="italic">b</text><text transform="translate(300.50 345.64) scale(1.5971 1)" font-size="11.23">&lt;</text><text transform="translate(314.35 345.57) scale(1.0403 1)" font-size="13.29">0</text><text transform="translate(281.94 363.50) scale(1.0456 1)" font-size="12.65" font-style="italic">V</text><text transform="translate(290.73 365.61) scale(1.2835 1)" font-size="8.71" font-style="italic">b</text><text transform="translate(300.50 363.94) scale(1.5971 1)" font-size="11.23">&gt;</text><text transform="translate(314.35 363.87) scale(1.0403 1)" font-size="13.29">0</text><rect x="342.2" y="401.0" width="125.5" height="50.4" fill="#fff"/><g clip-path="url(#iclipc)"><g fill="#008000"><circle cx="349.60" cy="449.30" r="1.55"/><circle cx="352.11" cy="446.17" r="1.55"/><circle cx="354.62" cy="443.29" r="1.55"/><circle cx="357.13" cy="440.64" r="1.55"/><circle cx="359.64" cy="438.24" r="1.55"/><circle cx="362.15" cy="436.18" r="1.55"/><circle cx="364.66" cy="434.20" r="1.55"/><circle cx="367.17" cy="432.00" r="1.55"/><circle cx="369.68" cy="429.70" r="1.55"/><circle cx="372.19" cy="427.32" r="1.55"/><circle cx="374.70" cy="425.04" r="1.55"/><circle cx="377.21" cy="423.20" r="1.55"/><circle cx="379.72" cy="421.55" r="1.55"/><circle cx="382.23" cy="419.83" r="1.55"/><circle cx="384.74" cy="418.24" r="1.55"/><circle cx="387.25" cy="417.10" r="1.55"/><circle cx="389.76" cy="416.12" r="1.55"/><circle cx="392.27" cy="415.05" r="1.55"/><circle cx="394.78" cy="413.93" r="1.55"/><circle cx="397.29" cy="412.81" r="1.55"/><circle cx="399.80" cy="411.67" r="1.55"/><circle cx="402.31" cy="410.51" r="1.55"/><circle cx="404.82" cy="409.37" r="1.55"/><circle cx="407.33" cy="408.42" r="1.55"/><circle cx="409.84" cy="407.59" r="1.55"/><circle cx="412.35" cy="406.92" r="1.55"/><circle cx="414.86" cy="406.35" r="1.55"/><circle cx="417.37" cy="405.85" r="1.55"/><circle cx="419.88" cy="405.39" r="1.55"/><circle cx="422.39" cy="404.99" r="1.55"/><circle cx="424.90" cy="404.60" r="1.55"/><circle cx="427.41" cy="404.22" r="1.55"/><circle cx="429.92" cy="403.92" r="1.55"/><circle cx="432.43" cy="403.74" r="1.55"/><circle cx="434.94" cy="403.59" r="1.55"/><circle cx="437.45" cy="403.46" r="1.55"/><circle cx="439.96" cy="403.31" r="1.55"/><circle cx="442.47" cy="403.21" r="1.55"/><circle cx="444.98" cy="403.20" r="1.55"/><circle cx="447.49" cy="403.20" r="1.55"/><circle cx="450.00" cy="403.20" r="1.55"/><circle cx="452.51" cy="403.20" r="1.55"/><circle cx="455.02" cy="403.20" r="1.55"/><circle cx="457.53" cy="403.21" r="1.55"/><circle cx="460.04" cy="403.34" r="1.55"/><circle cx="462.55" cy="403.56" r="1.55"/><circle cx="465.06" cy="403.85" r="1.55"/></g></g><line x1="338.3" y1="405.7" x2="342.2" y2="405.7" stroke="#000" stroke-width="2.0"/><text transform="translate(307.06 409.25) scale(1.1102 1)" font-size="10.04" stroke="#000" stroke-width="0.2" stroke-linejoin="round">1.075</text><line x1="338.3" y1="421.7" x2="342.2" y2="421.7" stroke="#000" stroke-width="2.0"/><text transform="translate(307.07 425.25) scale(1.1091 1)" font-size="10.04" stroke="#000" stroke-width="0.2" stroke-linejoin="round">1.050</text><line x1="338.3" y1="437.3" x2="342.2" y2="437.3" stroke="#000" stroke-width="2.0"/><text transform="translate(307.06 440.85) scale(1.1102 1)" font-size="10.04" stroke="#000" stroke-width="0.2" stroke-linejoin="round">1.025</text><line x1="342.20" y1="451.4" x2="342.20" y2="454.60" stroke="#000" stroke-width="2.0"/><text transform="translate(330.99 464.41) scale(1.2727 1)" font-size="9.05" stroke="#000" stroke-width="0.2" stroke-linejoin="round">0.00</text><line x1="373.57" y1="451.4" x2="373.57" y2="454.60" stroke="#000" stroke-width="2.0"/><text transform="translate(362.36 464.41) scale(1.2744 1)" font-size="9.05" stroke="#000" stroke-width="0.2" stroke-linejoin="round">0.25</text><line x1="404.95" y1="451.4" x2="404.95" y2="454.60" stroke="#000" stroke-width="2.0"/><text transform="translate(393.74 464.41) scale(1.2727 1)" font-size="9.05" stroke="#000" stroke-width="0.2" stroke-linejoin="round">0.50</text><line x1="436.32" y1="451.4" x2="436.32" y2="454.60" stroke="#000" stroke-width="2.0"/><text transform="translate(425.11 464.41) scale(1.2744 1)" font-size="9.05" stroke="#000" stroke-width="0.2" stroke-linejoin="round">0.75</text><line x1="467.70" y1="451.4" x2="467.70" y2="454.60" stroke="#000" stroke-width="2.0"/><text transform="translate(456.07 464.41) scale(1.2970 1)" font-size="9.05" stroke="#000" stroke-width="0.2" stroke-linejoin="round">1.00</text><text transform="translate(388.85 476.57) scale(1.0000 1)" font-size="10.03" stroke="#000" stroke-width="0.2" stroke-linejoin="round">|</text><text transform="translate(391.20 476.20) scale(1.0119 1)" font-size="9.02" font-style="italic" stroke="#000" stroke-width="0.2" stroke-linejoin="round">V</text><text transform="translate(397.31 477.35) scale(1.1529 1)" font-size="5.44" font-style="italic" stroke="#000" stroke-width="0.2" stroke-linejoin="round">b</text><text transform="translate(401.20 476.57) scale(1.0000 1)" font-size="10.03" stroke="#000" stroke-width="0.2" stroke-linejoin="round">|</text><text transform="translate(405.08 476.61) scale(0.8314 1)" font-size="10.08" stroke="#000" stroke-width="0.2" stroke-linejoin="round">(</text><text transform="translate(407.03 476.20) scale(1.2311 1)" font-size="9.02" font-style="italic" stroke="#000" stroke-width="0.2" stroke-linejoin="round">V</text><text transform="translate(416.93 476.61) scale(0.9448 1)" font-size="10.08" stroke="#000" stroke-width="0.2" stroke-linejoin="round">)</text><text transform="rotate(-90) translate(-433.18 301.65) scale(0.8991 1)" font-size="9.82" font-style="italic" stroke="#000" stroke-width="0.2" stroke-linejoin="round">AS</text><text transform="rotate(-90) translate(-420.75 303.70) scale(0.8296 1)" font-size="7.42" font-style="italic" stroke="#000" stroke-width="0.2" stroke-linejoin="round">I</text><rect x="342.2" y="401.0" width="125.5" height="50.4" fill="none" stroke="#000" stroke-width="2.1"/><rect x="87.25" y="7.7" width="392.18" height="158.4" fill="none" stroke="#000" stroke-width="3.25"/><rect x="87.25" y="166.1" width="392.18" height="158.70000000000002" fill="none" stroke="#000" stroke-width="3.25"/><rect x="87.25" y="324.8" width="392.18" height="158.5" fill="none" stroke="#000" stroke-width="3.25"/><line x1="87.25" y1="483.3" x2="87.25" y2="489.5" stroke="#000" stroke-width="2.4"/><rect x="57.20" y="501.95" width="16.9" height="2.1"/><text transform="translate(78.04 511.13) scale(1.0841 1)" font-size="26.57">1.0</text><line x1="185.30" y1="483.3" x2="185.30" y2="489.5" stroke="#000" stroke-width="2.4"/><rect x="155.60" y="501.95" width="16.9" height="2.1"/><text transform="translate(175.21 511.03) scale(1.1175 1)" font-size="26.57">0.5</text><line x1="283.34" y1="483.3" x2="283.34" y2="489.5" stroke="#000" stroke-width="2.4"/><text transform="translate(262.33 511.03) scale(1.1354 1)" font-size="26.57">0.0</text><line x1="381.38" y1="483.3" x2="381.38" y2="489.5" stroke="#000" stroke-width="2.4"/><text transform="translate(360.41 511.03) scale(1.1089 1)" font-size="26.57">0.5</text><line x1="479.43" y1="483.3" x2="479.43" y2="489.5" stroke="#000" stroke-width="2.4"/><text transform="translate(458.71 510.93) scale(1.1400 1)" font-size="26.57">1.0</text><text transform="translate(243.66 537.70) scale(1.0056 1)" font-size="26.62" font-style="italic">V</text><text transform="translate(262.71 541.62) scale(1.1001 1)" font-size="17.82" font-style="italic">b</text><text transform="translate(284.25 536.14) scale(0.9717 1)" font-size="23.91">(</text><text transform="translate(293.96 537.80) scale(1.0283 1)" font-size="26.33">V</text><text transform="translate(314.33 536.14) scale(0.9239 1)" font-size="23.91">)</text>
</svg>
</body></html>
